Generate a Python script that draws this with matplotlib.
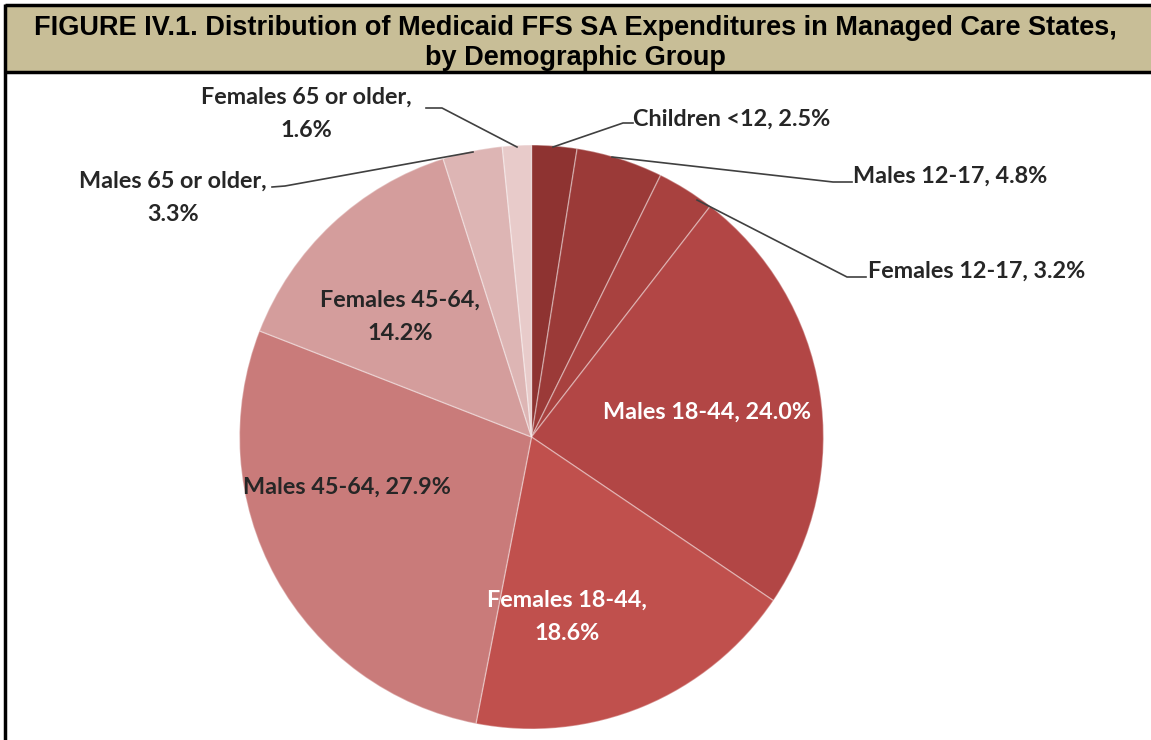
import matplotlib
matplotlib.use("Agg")
import matplotlib.pyplot as plt
from matplotlib.patches import Rectangle

# ---- data ----
categories = ["Children <12", "Males 12-17", "Females 12-17", "Males 18-44",
              "Females 18-44", "Males 45-64", "Females 45-64",
              "Males 65 or older", "Females 65 or older"]
values = [2.5, 4.8, 3.2, 24.0, 18.6, 27.9, 14.2, 3.3, 1.6]
label_texts = ["Children <12, 2.5%", "Males 12-17, 4.8%", "Females 12-17, 3.2%",
               "Males 18-44, 24.0%", "Females 18-44,\n18.6%", "Males 45-64, 27.9%",
               "Females 45-64,\n14.2%", "Males 65 or older,\n3.3%",
               "Females 65 or older,\n1.6%"]
colors = ["#8E3331", "#9B3A38", "#A8413F", "#B24645", "#C0504D",
          "#C97B7A", "#D49D9C", "#DDB5B4", "#E8CBCA"]
title = ("FIGURE IV.1. Distribution of Medicaid FFS SA Expenditures in Managed Care States,\n"
         "by Demographic Group")

W, H = 1151, 740
fig = plt.figure(figsize=(W / 100, H / 100), dpi=100)
ax = fig.add_axes([0, 0, 1, 1])

def Y(y):  # image row -> data y
    return H - y

# pie
cx, cy, r = 531.5, Y(437), 292
wedges, _ = ax.pie(values, colors=colors, startangle=90, counterclock=False,
                   center=(cx, cy), radius=r, frame=True,
                   wedgeprops=dict(edgecolor=(1, 1, 1, 0.35), linewidth=1.0))
ax.set_xlim(0, W)
ax.set_ylim(0, H)
ax.set_aspect("auto")
ax.axis("off")

# title banner
ax.add_patch(Rectangle((5, Y(72)), W, 67, facecolor="#C8BE97", edgecolor="none", zorder=1))
ax.plot([5, W], [Y(5), Y(5)], color="black", lw=2.5, zorder=3, solid_capstyle="butt")
ax.plot([5, W], [Y(72), Y(72)], color="black", lw=2.5, zorder=3, solid_capstyle="butt")
ax.plot([5, 5], [Y(4), 0], color="black", lw=2.5, zorder=3, solid_capstyle="butt")
ax.text(575, Y(43), title, ha="center", va="center", fontsize=19.5, fontweight="bold",
        family="Liberation Sans", linespacing=1.24, zorder=4)

fk = dict(family=["Lato", "DejaVu Sans"], fontsize=16.8, fontweight="bold")
dark = "#262626"
ls2 = 1.75

# inside labels
ax.text(707, Y(412), label_texts[3], ha="center", va="center", color="white", **fk)
ax.text(567, Y(617), label_texts[4], ha="center", va="center", color="white",
        linespacing=ls2, **fk)
ax.text(347, Y(487), label_texts[5], ha="center", va="center", color=dark, **fk)
ax.text(400, Y(317), label_texts[6], ha="center", va="center", color=dark,
        linespacing=ls2, **fk)

# outside labels with leader lines
lc = dict(color="#404040", lw=1.2, zorder=5)
ax.text(633, Y(119), label_texts[0], ha="left", va="center", color=dark, **fk)
ax.plot([553, 623, 633], [Y(147), Y(123), Y(123)], **lc)

ax.text(853, Y(176), label_texts[1], ha="left", va="center", color=dark, **fk)
ax.plot([612, 833, 852], [Y(157), Y(182), Y(182)], **lc)

ax.text(868, Y(271), label_texts[2], ha="left", va="center", color=dark, **fk)
ax.plot([697, 847, 866], [Y(200), Y(277), Y(277)], **lc)

ax.text(173, Y(198), label_texts[7], ha="center", va="center", color=dark,
        linespacing=ls2, **fk)
ax.plot([272, 285, 473], [Y(187), Y(186), Y(152)], **lc)

ax.text(306, Y(114), label_texts[8], ha="center", va="center", color=dark,
        linespacing=ls2, **fk)
ax.plot([426, 442, 517], [Y(108), Y(108), Y(147)], **lc)

fig.savefig("out.png", dpi=100)
